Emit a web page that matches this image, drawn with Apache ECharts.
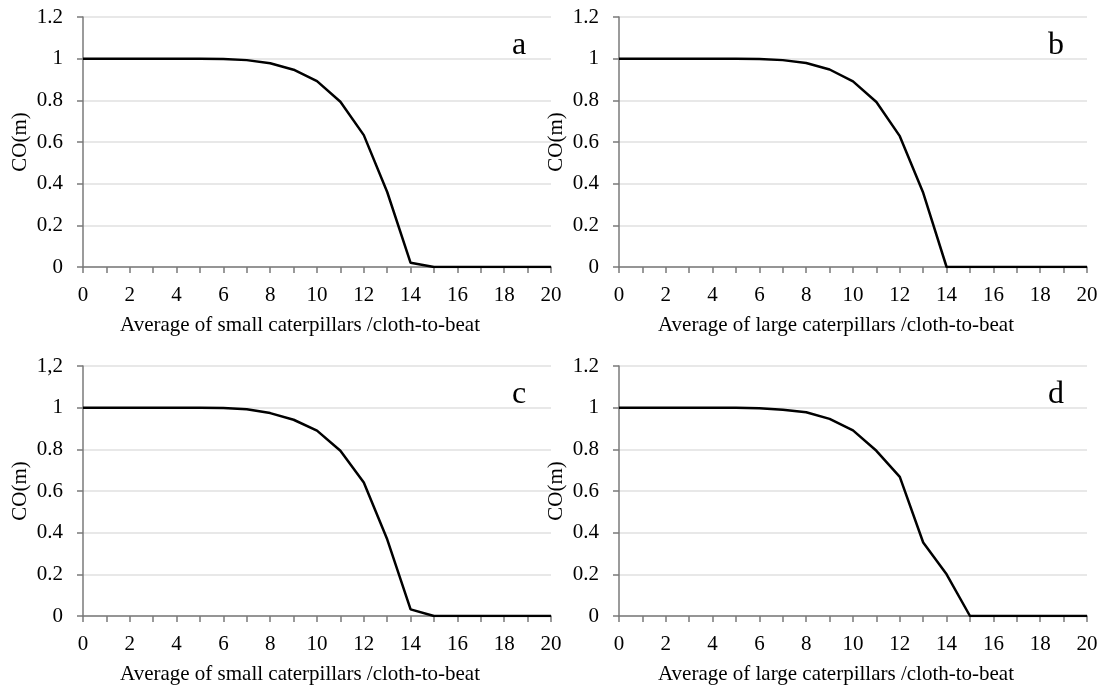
<!DOCTYPE html>
<html>
<head>
<meta charset="utf-8">
<title>CO(m) curves</title>
<script src="https://cdn.jsdelivr.net/npm/echarts@6/dist/echarts.min.js"></script>
<style>
    html, body{
        margin: 0;
        padding: 0;
        background: #fff;
    }
    #chart{
        width: 1104px;
        height: 688px;
    }
</style>
</head>
<body>
<div id="chart"></div>
<script>
    // x values (average caterpillars per cloth)
    const xValues = [0,1,2,3,4,5,6,7,8,9,10,11,12,13,14,15,16,17,18,19,20]

    // CO(m)
    const coA = [1,1,1,1,1,1,0.998,0.993,0.978,0.947,0.892,0.793,0.633,0.36,0.02,0,0,0,0,0,0]
    const coB = [1,1,1,1,1,1,0.998,0.993,0.979,0.948,0.891,0.792,0.628,0.356,0,0,0,0,0,0,0]
    const coC = [1,1,1,1,1,1,0.998,0.992,0.974,0.942,0.89,0.793,0.641,0.368,0.032,0,0,0,0,0,0]
    const coD = [1,1,1,1,1,1,0.997,0.99,0.978,0.946,0.891,0.793,0.668,0.353,0.2,0,0,0,0,0,0]

    const panelLetters = ['a', 'b', 'c', 'd']
    const xNames = [
        'Average of small caterpillars /cloth-to-beat',
        'Average of large caterpillars /cloth-to-beat',
        'Average of small caterpillars /cloth-to-beat',
        'Average of large caterpillars /cloth-to-beat'
    ]
    const yName = 'CO(m)'
    const panelData = [coA, coB, coC, coD]

    const font = 'Liberation Serif'
    // panel boxes: left, top
    const boxes = [[83, 17], [619, 17], [83, 366], [619, 366]]
    const boxW = 468
    const boxH = 250

    let chart = echarts.init(document.getElementById('chart'))

    let grids = []
    let xAxes = []
    let yAxes = []
    let series = []
    let titles = []

    panelData.forEach((values, i) => {
        grids.push({
            left: boxes[i][0],
            top: boxes[i][1],
            width: boxW,
            height: boxH
        })
        xAxes.push({
            type: 'value',
            gridIndex: i,
            min: 0,
            max: 20,
            interval: 1,
            name: xNames[i],
            nameLocation: 'middle',
            nameGap: 48,
            // title sits a little left of the plot centre
            nameTextStyle: {fontFamily: font, fontSize: 21, color: '#000', padding: [0, 34, 0, 0]},
            axisLine: {lineStyle: {color: '#7a7a7a', width: 1.5}},
            axisTick: {show: true, length: 6, lineStyle: {color: '#7a7a7a', width: 1.5}},
            axisLabel: {
                fontFamily: font,
                fontSize: 21,
                color: '#000',
                margin: 18,
                showMaxLabel: true,
                formatter: v => (v % 2 === 0 ? String(v) : '')
            },
            splitLine: {show: false}
        })
        yAxes.push({
            type: 'value',
            gridIndex: i,
            min: 0,
            max: 1.2,
            interval: 0.2,
            name: yName,
            nameLocation: 'middle',
            nameGap: 52,
            nameTextStyle: {fontFamily: font, fontSize: 21, color: '#000'},
            axisLine: {show: true, lineStyle: {color: '#7a7a7a', width: 1.5}},
            axisTick: {show: true, length: 6, lineStyle: {color: '#7a7a7a', width: 1.5}},
            axisLabel: {
                fontFamily: font,
                fontSize: 21,
                color: '#000',
                margin: 20,
                formatter: v => {
                    let r = Math.round(v * 10) / 10
                    // panel c writes the top label with a comma
                    if (i === 2 && r === 1.2) return '1,2'
                    return String(r)
                }
            },
            splitLine: {show: true, lineStyle: {color: '#e0e0e0', width: 1.5}}
        })
        series.push({
            type: 'line',
            xAxisIndex: i,
            yAxisIndex: i,
            data: xValues.map((x, k) => [x, values[k]]),
            showSymbol: false,
            symbol: 'none',
            lineStyle: {color: '#000', width: 2.5},
            animation: false,
            z: 3
        })
        titles.push({
            text: panelLetters[i],
            left: boxes[i][0] + 424,
            top: boxes[i][1] + 8,
            textStyle: {fontFamily: font, fontSize: 32, fontWeight: 'normal', color: '#000'}
        })
    })

    chart.setOption({
        backgroundColor: '#fff',
        animation: false,
        title: titles,
        grid: grids,
        xAxis: xAxes,
        yAxis: yAxes,
        series: series
    })
</script>
</body>
</html>
